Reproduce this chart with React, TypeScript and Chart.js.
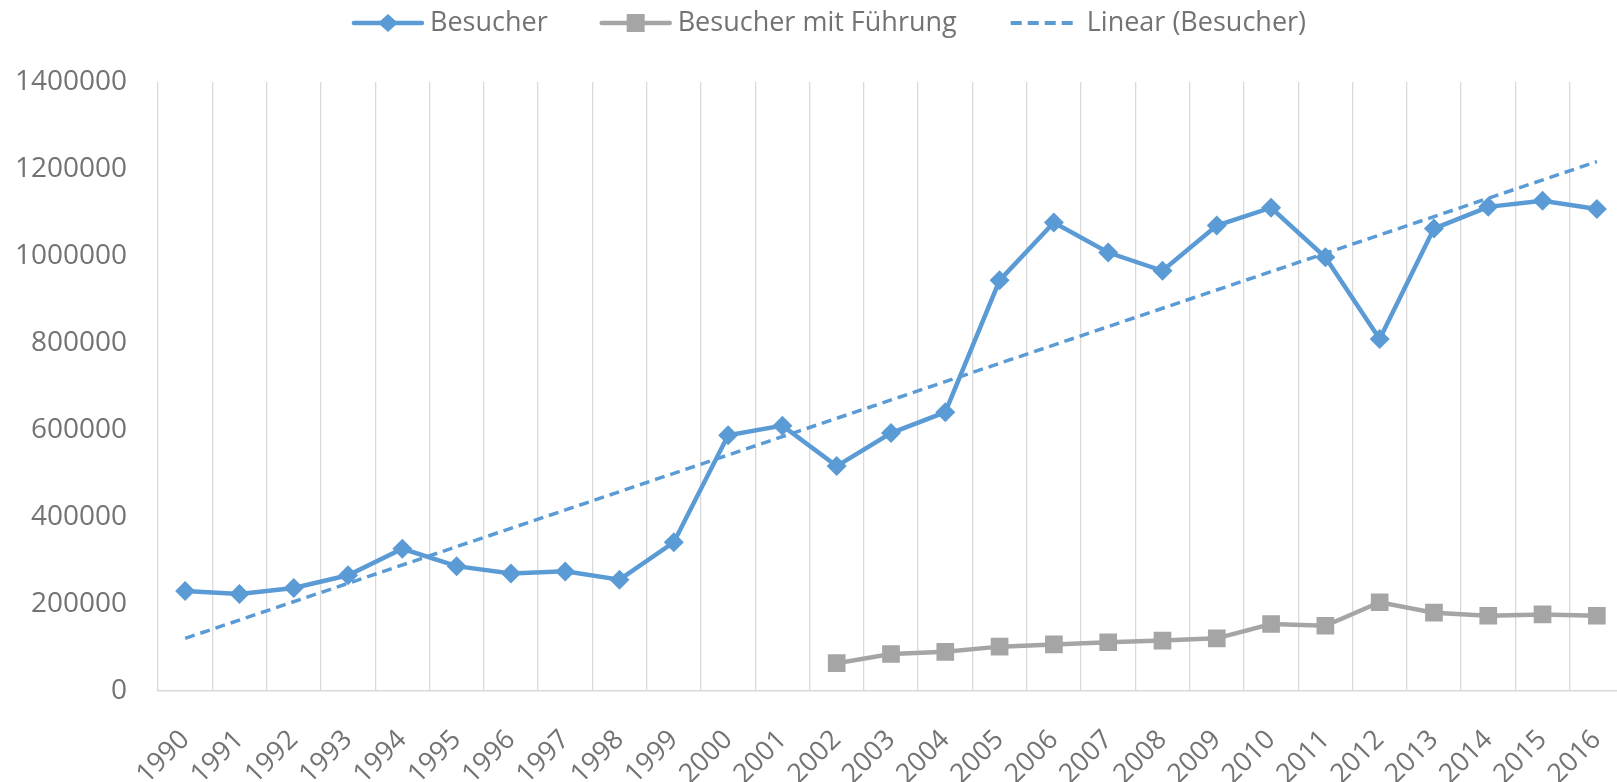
import React, { useEffect, useRef } from "react";
import { Chart, registerables } from "chart.js";

Chart.register(...registerables);

const years = [
  "1990", "1991", "1992", "1993", "1994", "1995", "1996", "1997", "1998", "1999",
  "2000", "2001", "2002", "2003", "2004", "2005", "2006", "2007", "2008", "2009",
  "2010", "2011", "2012", "2013", "2014", "2015", "2016",
];

const besucher = [
  230000, 223000, 237000, 266000, 327000, 287000, 270000, 275000, 256000, 342000,
  588000, 610000, 517000, 593000, 641000, 944000, 1077000, 1008000, 966000, 1070000,
  1111000, 997000, 809000, 1063000, 1113000, 1127000, 1108000,
];

const besucherMitFuehrung = [
  null, null, null, null, null, null, null, null, null, null,
  null, null, 64000, 85000, 90000, 102000, 107000, 112000, 116000, 121000,
  154000, 150000, 204000, 180000, 173000, 176000, 173000,
];

// Linear trend of "Besucher": values read at the first and last category
const trendStart = 121000;
const trendEnd = 1217000;

const seriesNames = ["Besucher", "Besucher mit Führung", "Linear (Besucher)"];

const BLUE = "#5b9bd5";
const GRAY = "#a5a5a5";
const TEXT = "#737373";
const GRID = "#d9d9d9";
const FONT = "'Open Sans', sans-serif";

const legendPlugin = {
  id: "excelLegend",
  afterDraw(chart: any) {
    const ctx = chart.ctx as CanvasRenderingContext2D;
    ctx.save();
    ctx.font = `27px ${FONT}`;
    ctx.textBaseline = "middle";
    const lineLen = 68;
    const textGap = 8;
    const itemGap = 54;
    const y = 23;
    const widths = seriesNames.map((n) => ctx.measureText(n).width);
    const total =
      widths.reduce((a, b) => a + b, 0) + seriesNames.length * (lineLen + textGap) + (seriesNames.length - 1) * itemGap;
    let x = 830 - total / 2;
    seriesNames.forEach((name, i) => {
      ctx.save();
      if (i === 0) {
        ctx.strokeStyle = BLUE;
        ctx.lineWidth = 4.5;
        ctx.lineCap = "round";
        ctx.beginPath();
        ctx.moveTo(x, y);
        ctx.lineTo(x + lineLen, y);
        ctx.stroke();
        ctx.fillStyle = BLUE;
        const cx = x + lineLen / 2;
        ctx.beginPath();
        ctx.moveTo(cx, y - 9);
        ctx.lineTo(cx + 10, y);
        ctx.lineTo(cx, y + 9);
        ctx.lineTo(cx - 10, y);
        ctx.closePath();
        ctx.fill();
      } else if (i === 1) {
        ctx.strokeStyle = GRAY;
        ctx.lineWidth = 4.5;
        ctx.lineCap = "round";
        ctx.beginPath();
        ctx.moveTo(x, y);
        ctx.lineTo(x + lineLen, y);
        ctx.stroke();
        ctx.fillStyle = GRAY;
        const cx = x + lineLen / 2;
        ctx.fillRect(cx - 9, y - 9, 18, 18);
      } else {
        ctx.strokeStyle = BLUE;
        ctx.lineWidth = 4;
        ctx.setLineDash([11, 6]);
        ctx.beginPath();
        ctx.moveTo(x, y);
        ctx.lineTo(x + lineLen, y);
        ctx.stroke();
      }
      ctx.restore();
      ctx.fillStyle = TEXT;
      ctx.textAlign = "left";
      ctx.fillText(name, x + lineLen + textGap, y);
      x += lineLen + textGap + widths[i] + itemGap;
    });
    ctx.restore();
  },
};

export default function App() {
  const canvasRef = useRef<HTMLCanvasElement | null>(null);

  useEffect(() => {
    if (!canvasRef.current) return;
    const last = years.length - 1;
    const trend = years.map((_, i) => (i === 0 ? trendStart : i === last ? trendEnd : null));
    const chart = new Chart(canvasRef.current, {
      type: "line",
      data: {
        labels: years,
        datasets: [
          {
            label: seriesNames[2],
            data: trend,
            borderColor: BLUE,
            borderWidth: 3.5,
            borderDash: [10, 6],
            pointRadius: 0,
            spanGaps: true,
            order: 0,
          },
          {
            label: seriesNames[0],
            data: besucher,
            borderColor: BLUE,
            backgroundColor: BLUE,
            borderWidth: 4.5,
            pointStyle: "rectRot",
            pointRadius: 10,
            pointBorderWidth: 0,
            pointBackgroundColor: BLUE,
            order: 1,
          },
          {
            label: seriesNames[1],
            data: besucherMitFuehrung,
            borderColor: GRAY,
            backgroundColor: GRAY,
            borderWidth: 4.5,
            pointStyle: "rect",
            pointRadius: 12.5,
            pointBorderWidth: 0,
            pointBackgroundColor: GRAY,
            spanGaps: false,
            order: 2,
          },
        ],
      },
      options: {
        animation: false,
        responsive: false,
        layout: { padding: { top: 82, right: 36, left: 0, bottom: 0 } },
        plugins: {
          legend: { display: false },
          tooltip: { enabled: false },
        },
        scales: {
          x: {
            type: "category",
            offset: true,
            grid: { display: true, offset: true, color: GRID, lineWidth: 1.3, drawTicks: false },
            border: { display: true, color: GRID, width: 1.5 },
            ticks: {
              autoSkip: false,
              maxRotation: 45,
              minRotation: 45,
              padding: 33,
              color: TEXT,
              font: { size: 27, family: FONT },
            },
            afterFit(scale: any) {
              scale.height = 91;
            },
          },
          y: {
            min: 0,
            max: 1400000,
            grid: { display: false, drawTicks: false },
            border: { display: false },
            ticks: {
              stepSize: 200000,
              padding: 31,
              color: TEXT,
              font: { size: 28, family: FONT },
              callback: (v: any) => String(v),
            },
            afterFit(scale: any) {
              scale.width = 158;
            },
          },
        },
      },
      plugins: [legendPlugin],
    });
    return () => chart.destroy();
  }, []);

  return (
    <div
      style={{
        position: "fixed",
        left: 0,
        top: 0,
        width: 1617,
        height: 782,
        overflow: "hidden",
        background: "#fff",
      }}
    >
      <canvas ref={canvasRef} width={1660} height={782} style={{ display: "block" }} />
    </div>
  );
}
